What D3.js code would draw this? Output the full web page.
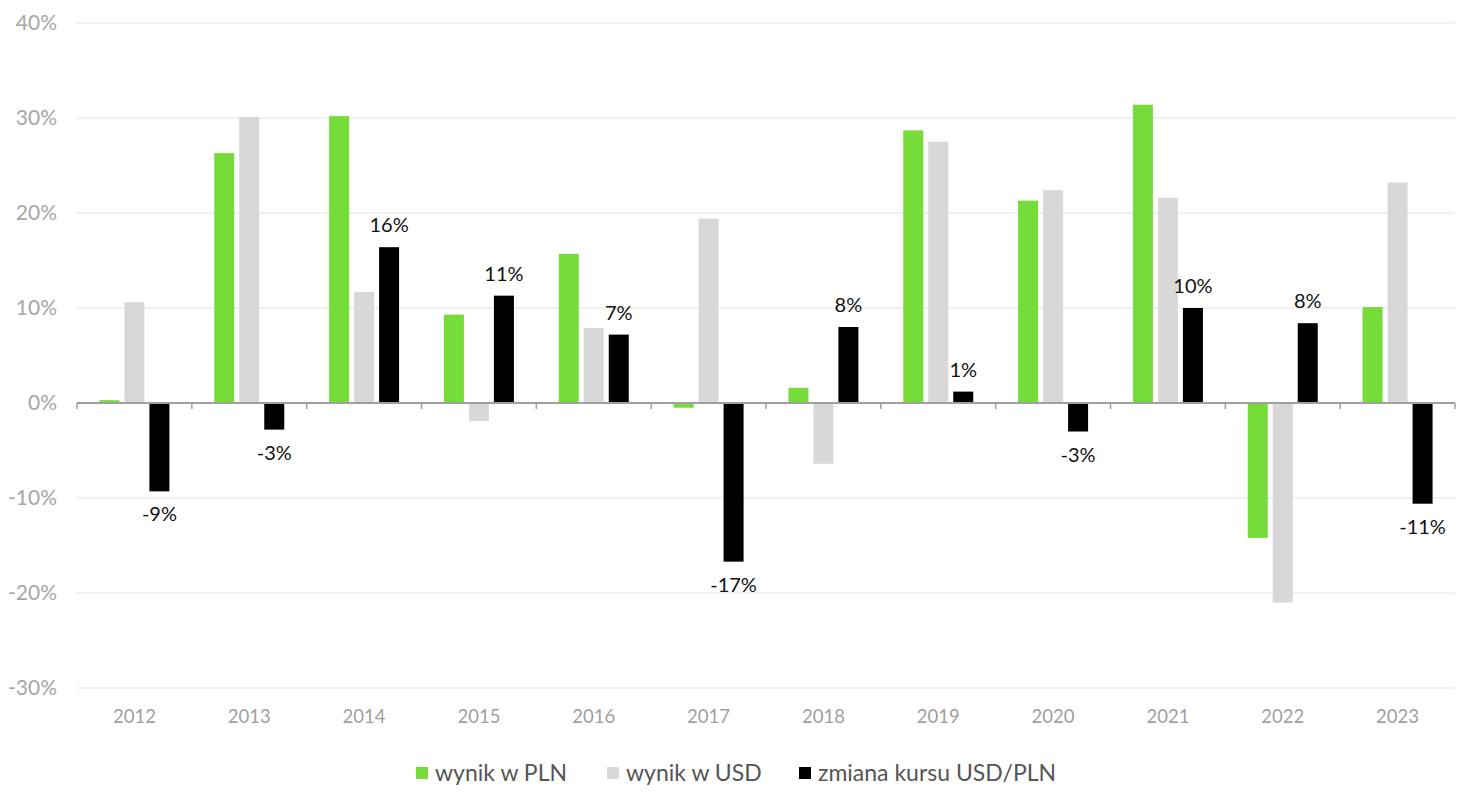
<!DOCTYPE html>
<html>
<head>
<meta charset="utf-8">
<script src="https://cdn.jsdelivr.net/npm/d3@7"></script>
<style>
  html, body { margin: 0; padding: 0; background: #fff; }
  svg { display: block; font-family: Lato, "Noto Sans", sans-serif; }
</style>
</head>
<body>
<svg id="chart" width="1466" height="808"></svg>
<script>
const years = ["2012","2013","2014","2015","2016","2017","2018","2019","2020","2021","2022","2023"];
const wynikPLN = [0.3, 26.3, 30.2, 9.3, 15.7, -0.5, 1.6, 28.7, 21.3, 31.4, -14.2, 10.1];
const wynikUSD = [10.6, 30.1, 11.7, -1.9, 7.9, 19.4, -6.4, 27.5, 22.4, 21.6, -21.0, 23.2];
const kursUSDPLN = [-9.3, -2.8, 16.4, 11.3, 7.2, -16.7, 8.0, 1.2, -3.0, 10.0, 8.4, -10.6];
const yTicks = [-30, -20, -10, 0, 10, 20, 30, 40];
const seriesNames = ["wynik w PLN", "wynik w USD", "zmiana kursu USD/PLN"];
const seriesColors = ["#76dc3a", "#d8d8d8", "#000000"];

const svg = d3.select("#chart");
const mLeft = 77, mRight = 1455, mTop = 23, mBottom = 688;

const x = d3.scaleBand().domain(years).range([mLeft, mRight]).paddingInner(0).paddingOuter(0);
const y = d3.scaleLinear().domain([-30, 40]).range([mBottom, mTop]);
const barW = 20, gap = 5;
const xs = d3.scaleBand().domain([0,1,2]).range([0, 3*barW + 2*gap]).paddingInner(gap/(barW+gap)).paddingOuter(0);
const groupW = 3*barW + 2*gap;

// gridlines
svg.append("g").selectAll("line").data(yTicks.filter(d => d !== 0)).join("line")
  .attr("x1", mLeft).attr("x2", mRight)
  .attr("y1", d => y(d)).attr("y2", d => y(d))
  .attr("stroke", "#ebebeb").attr("stroke-width", 1.5);

// y labels
svg.append("g").selectAll("text").data(yTicks).join("text")
  .attr("x", 57).attr("y", d => y(d)).attr("dy", "0.35em")
  .attr("text-anchor", "end").attr("font-size", 21).attr("fill", "#a6a6a6")
  .text(d => d + "%");

const series = [wynikPLN, wynikUSD, kursUSDPLN];
const gBars = svg.append("g");
series.forEach((vals, si) => {
  gBars.append("g").selectAll("rect").data(vals).join("rect")
    .attr("x", (d, i) => x(years[i]) + (x.bandwidth() - groupW) / 2 + xs(si))
    .attr("width", xs.bandwidth())
    .attr("y", d => y(Math.max(0, d)))
    .attr("height", d => Math.abs(y(d) - y(0)))
    .attr("fill", seriesColors[si]);
});

// zero axis
svg.append("line").attr("x1", mLeft).attr("x2", mRight).attr("y1", y(0)).attr("y2", y(0))
  .attr("stroke", "#a0a0a0").attr("stroke-width", 2);
svg.append("g").selectAll("line").data(d3.range(years.length + 1)).join("line")
  .attr("x1", i => mLeft + i * x.step()).attr("x2", i => mLeft + i * x.step())
  .attr("y1", y(0)).attr("y2", y(0) + 6)
  .attr("stroke", "#a0a0a0").attr("stroke-width", 1.5);

// x labels
svg.append("g").selectAll("text").data(years).join("text")
  .attr("x", d => x(d) + x.bandwidth() / 2).attr("y", 723)
  .attr("text-anchor", "middle").attr("font-size", 18.5).attr("fill", "#a0a0a0")
  .text(d => d);

// data labels for kurs
svg.append("g").selectAll("text").data(kursUSDPLN).join("text")
  .attr("x", (d, i) => x(years[i]) + (x.bandwidth() - groupW) / 2 + xs(2) + barW / 2)
  .attr("y", d => d >= 0 ? y(d) - 15 : y(d) + 30)
  .attr("text-anchor", "middle").attr("font-size", 20).attr("fill", "#111")
  .text(d => Math.round(d) + "%");

// legend
const legendItems = [
  {sq: 416, tx: 435}, {sq: 607, tx: 626}, {sq: 799, tx: 818}
];
const lg = svg.append("g");
legendItems.forEach((it, i) => {
  lg.append("rect").attr("x", it.sq).attr("y", 767).attr("width", 12).attr("height", 12)
    .attr("fill", seriesColors[i]);
  lg.append("text").attr("x", it.tx).attr("y", 773).attr("dy", "0.35em")
    .attr("font-size", 23).attr("fill", "#555").text(seriesNames[i]);
});
</script>
</body>
</html>
